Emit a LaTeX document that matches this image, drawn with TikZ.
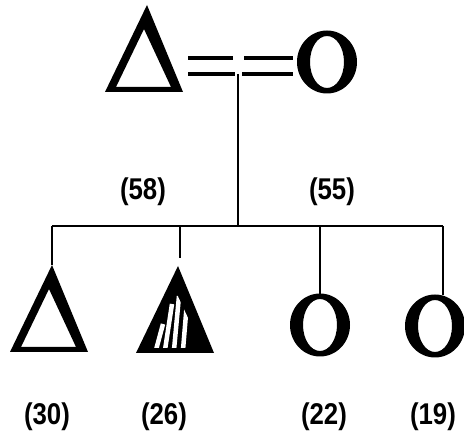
\documentclass[tikz,border=0pt]{standalone}
\usepackage{fontspec}
\setmainfont{Liberation Sans}
\begin{document}
\begin{tikzpicture}[x=1pt,y=-1pt,
  lbl/.style={font=\fontsize{30}{32}\selectfont\bfseries, inner sep=0pt, xscale=0.86},
  conn/.style={line width=1.5pt},
  barline/.style={line width=2pt},
  dbl/.style={line width=4pt},
  delta/.pic={\fill[even odd rule] (0,0) -- (-42,87) -- (36,87) -- cycle (-3,24) -- (-31,82) -- (24,82) -- cycle;},
  hdelta/.pic={\fill (0,0) -- (-42,87) -- (36,87) -- cycle;
    \begin{scope}
      \clip (-3,24) -- (-31,82) -- (24,82) -- cycle;
      \draw[white, line width=4.5pt] (-22,84) -- (-15,58) (-13,84) -- (-6,38) (-4,84) -- (1,30) (5,84) -- (9,36);
    \end{scope}},
  oh/.pic={\fill[even odd rule] (0,0) ellipse [x radius=30pt, y radius=31.5pt] (0,0) ellipse [x radius=17pt, y radius=26pt];}
]
\useasboundingbox (0,0) rectangle (464,433);
% parents
\pic at (147,5) {delta};
\pic at (327,62) {oh};
\coordinate (eqLa) at (188,58);
\coordinate (eqLb) at (233,58);
\coordinate (eqRa) at (244,58);
\coordinate (eqRb) at (293,58);
\coordinate (eqLc) at (188,74);
\coordinate (eqLd) at (235,74);
\coordinate (eqRc) at (242,74);
\coordinate (eqRd) at (293,74);
\draw[dbl] (eqLa) -- (eqLb) (eqRa) -- (eqRb) (eqLc) -- (eqLd) (eqRc) -- (eqRd);
\coordinate (mar) at (238,74);
\coordinate (barM) at (238,226);
\coordinate (barL) at (52,226);
\coordinate (barR) at (443,226);
\draw[conn] (mar) -- (barM);
\draw[barline] (barL) -- (barR);
% children
\pic at (52,265) {delta};
\pic at (178,266) {hdelta};
\pic at (320,325) {oh};
\pic at (435,326) {oh};
\coordinate (c1) at (52,265);
\coordinate (b2) at (180,226);
\coordinate (c2) at (180,258);
\coordinate (b3) at (320,226);
\coordinate (c3) at (320,294);
\coordinate (c4) at (443,295);
\draw[conn] (barL) -- (c1);
\draw[conn] (b2) -- (c2);
\draw[conn] (b3) -- (c3);
\draw[conn] (barR) -- (c4);
% labels
\node[lbl] (l58) at (143,192) {(58)};
\node[lbl] (l55) at (332,192) {(55)};
\node[lbl] (l30) at (47,417) {(30)};
\node[lbl] (l26) at (164,417) {(26)};
\node[lbl] (l22) at (324,417) {(22)};
\node[lbl] (l19) at (433,417) {(19)};
\end{tikzpicture}
\end{document}
